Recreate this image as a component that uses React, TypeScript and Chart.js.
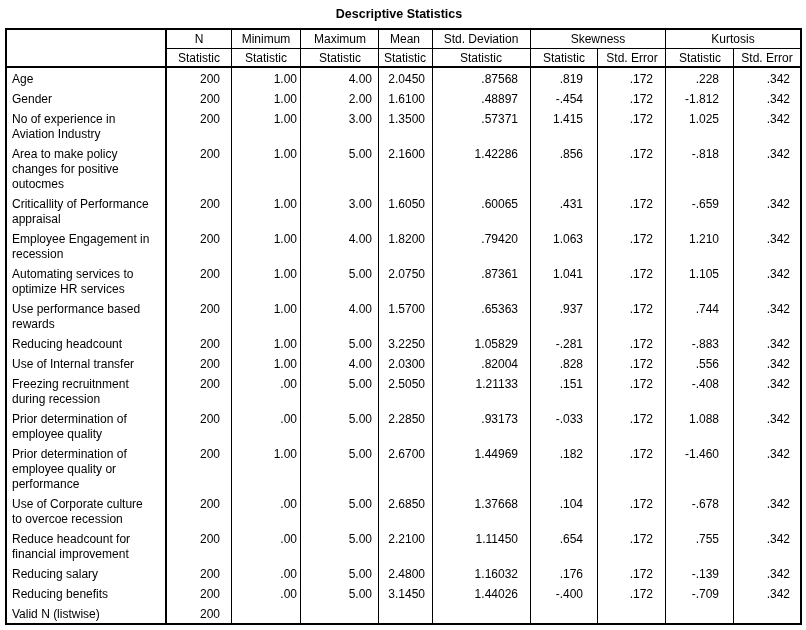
import React, { useEffect, useRef } from "react";
import { Chart, registerables } from "chart.js";

Chart.register(...registerables);

// ---------- data ----------
const title = "Descriptive Statistics";
const groupHeaders = ["N", "Minimum", "Maximum", "Mean", "Std. Deviation", "Skewness", "Kurtosis"];
const subHeaders = ["Statistic", "Statistic", "Statistic", "Statistic", "Statistic", "Statistic", "Std. Error", "Statistic", "Std. Error"];

const rowLabels: string[][] = [
  ["Age"],
  ["Gender"],
  ["No of experience in", "Aviation Industry"],
  ["Area to make policy", "changes for positive", "outocmes"],
  ["Criticallity of Performance", "appraisal"],
  ["Employee Engagement in", "recession"],
  ["Automating services to", "optimize HR services"],
  ["Use performance based", "rewards"],
  ["Reducing headcount"],
  ["Use of Internal transfer"],
  ["Freezing recruitnment", "during recession"],
  ["Prior determination of", "employee quality"],
  ["Prior determination of", "employee quality or", "performance"],
  ["Use of Corporate culture", "to overcoe recession"],
  ["Reduce headcount for", "financial improvement"],
  ["Reducing salary"],
  ["Reducing benefits"],
  ["Valid N (listwise)"],
];

const nValues = [200, 200, 200, 200, 200, 200, 200, 200, 200, 200, 200, 200, 200, 200, 200, 200, 200, 200];
const minimumValues = [1, 1, 1, 1, 1, 1, 1, 1, 1, 1, 0, 0, 1, 0, 0, 0, 0, null];
const maximumValues = [4, 2, 3, 5, 3, 4, 5, 4, 5, 4, 5, 5, 5, 5, 5, 5, 5, null];
const meanValues = [2.045, 1.61, 1.35, 2.16, 1.605, 1.82, 2.075, 1.57, 3.225, 2.03, 2.505, 2.285, 2.67, 2.685, 2.21, 2.48, 3.145, null];
const stdDevValues = [0.87568, 0.48897, 0.57371, 1.42286, 0.60065, 0.7942, 0.87361, 0.65363, 1.05829, 0.82004, 1.21133, 0.93173, 1.44969, 1.37668, 1.1145, 1.16032, 1.44026, null];
const skewnessValues = [0.819, -0.454, 1.415, 0.856, 0.431, 1.063, 1.041, 0.937, -0.281, 0.828, 0.151, -0.033, 0.182, 0.104, 0.654, 0.176, -0.4, null];
const skewnessSE = [0.172, 0.172, 0.172, 0.172, 0.172, 0.172, 0.172, 0.172, 0.172, 0.172, 0.172, 0.172, 0.172, 0.172, 0.172, 0.172, 0.172, null];
const kurtosisValues = [0.228, -1.812, 1.025, -0.818, -0.659, 1.21, 1.105, 0.744, -0.883, 0.556, -0.408, 1.088, -1.46, -0.678, 0.755, -0.139, -0.709, null];
const kurtosisSE = [0.342, 0.342, 0.342, 0.342, 0.342, 0.342, 0.342, 0.342, 0.342, 0.342, 0.342, 0.342, 0.342, 0.342, 0.342, 0.342, 0.342, null];

const columnValues = [nValues, minimumValues, maximumValues, meanValues, stdDevValues, skewnessValues, skewnessSE, kurtosisValues, kurtosisSE];
const columnDecimals = [0, 2, 2, 4, 5, 3, 3, 3, 3];

// ---------- layout (pixels on the chart's own linear scales) ----------
const W = 806;
const H = 630;
const TABLE_LEFT = 5;
const TABLE_RIGHT = 800;
const TABLE_TOP = 28;
const HEADER_MID = 48;
const HEADER_BOTTOM = 66;
const TABLE_BOTTOM = 623;
const LABEL_COL_RIGHT = 165;
const colLines = [231, 300, 378, 432, 530, 597, 665, 733];
const textRight = [220, 297, 372, 425, 518, 583, 653, 719, 790];
const LINE_H = 15;
const ROW_PAD = 5;
const BODY_TOP = 68;

const FONT = "12px 'Liberation Sans', Arial, Helvetica, sans-serif";
const BOLD = "bold 12.5px 'Liberation Sans', Arial, Helvetica, sans-serif";

function fmt(v: number | null, d: number): string {
  if (v === null || v === undefined) return "";
  let s = v.toFixed(d);
  s = s.replace(/^(-?)0\./, "$1.");
  return s;
}

const tablePlugin = {
  id: "spssTable",
  beforeDraw(chart: any) {
    const ctx = chart.ctx;
    ctx.save();
    ctx.fillStyle = "#ffffff";
    ctx.fillRect(0, 0, chart.width, chart.height);
    ctx.restore();
  },
  afterDraw(chart: any) {
    const xs = chart.scales.x;
    const ys = chart.scales.y;
    const X = (v: number) => Math.round(xs.getPixelForValue(v));
    const Y = (v: number) => Math.round(ys.getPixelForValue(v));
    const ctx = chart.ctx as CanvasRenderingContext2D;
    ctx.save();
    ctx.fillStyle = "#000";

    const hline = (x1: number, x2: number, y: number, w: number) => {
      ctx.fillRect(X(x1), Y(y), X(x2) - X(x1), w);
    };
    const vline = (x: number, y1: number, y2: number, w: number) => {
      ctx.fillRect(X(x), Y(y1), w, Y(y2) - Y(y1));
    };

    // title
    ctx.font = BOLD;
    ctx.textAlign = "center";
    ctx.textBaseline = "alphabetic";
    ctx.fillText(title, X(399), Y(18));

    // borders
    hline(TABLE_LEFT, TABLE_RIGHT + 2, TABLE_TOP, 2);
    hline(TABLE_LEFT, TABLE_RIGHT + 2, TABLE_BOTTOM, 2);
    vline(TABLE_LEFT, TABLE_TOP, TABLE_BOTTOM + 2, 2);
    vline(TABLE_RIGHT, TABLE_TOP, TABLE_BOTTOM + 2, 2);
    vline(LABEL_COL_RIGHT, TABLE_TOP, TABLE_BOTTOM, 2);
    hline(LABEL_COL_RIGHT, TABLE_RIGHT, HEADER_MID, 1);
    hline(TABLE_LEFT, TABLE_RIGHT, HEADER_BOTTOM, 2);
    // inner column lines (sub columns of skewness/kurtosis start below group header)
    colLines.forEach((x, i) => {
      const sub = i === 5 || i === 7;
      vline(x, sub ? HEADER_MID : TABLE_TOP, TABLE_BOTTOM, 1);
    });

    // header text
    ctx.font = FONT;
    ctx.textAlign = "center";
    const colLeft = [LABEL_COL_RIGHT + 2, ...colLines.map((x) => x + 1)];
    const colRight = [...colLines, TABLE_RIGHT];
    const groupSpan = [[0, 0], [1, 1], [2, 2], [3, 3], [4, 4], [5, 6], [7, 8]];
    groupHeaders.forEach((g, i) => {
      const [a, b] = groupSpan[i];
      const cx = (colLeft[a] + colRight[b]) / 2;
      ctx.fillText(g, X(cx), Y(43));
    });
    subHeaders.forEach((s, i) => {
      const cx = (colLeft[i] + colRight[i]) / 2;
      ctx.fillText(s, X(cx), Y(62));
    });

    // body
    let top = BODY_TOP;
    rowLabels.forEach((lines, r) => {
      ctx.textAlign = "left";
      lines.forEach((l, k) => {
        ctx.fillText(l, X(12), Y(top + 15 + LINE_H * k));
      });
      ctx.textAlign = "right";
      columnValues.forEach((col, c) => {
        const s = fmt(col[r] as number | null, columnDecimals[c]);
        if (s) ctx.fillText(s, X(textRight[c]), Y(top + 15));
      });
      top += LINE_H * lines.length + ROW_PAD;
    });
    ctx.restore();
  },
};

export default function App() {
  const ref = useRef<HTMLCanvasElement | null>(null);
  useEffect(() => {
    document.body.style.margin = "0";
    const canvas = ref.current;
    if (!canvas) return;
    const chart = new Chart(canvas, {
      type: "scatter",
      data: { datasets: [{ data: [], pointRadius: 0 }] },
      options: {
        animation: false,
        responsive: false,
        devicePixelRatio: 1,
        layout: { padding: 0 },
        plugins: { legend: { display: false }, tooltip: { enabled: false }, title: { display: false } },
        scales: {
          x: { type: "linear", min: 0, max: W, display: false },
          y: { type: "linear", min: 0, max: H, reverse: true, display: false },
        },
      },
      plugins: [tablePlugin],
    });
    return () => chart.destroy();
  }, []);
  return (
    <div style={{ width: W, height: H, background: "#fff" }}>
      <canvas ref={ref} width={W} height={H} style={{ display: "block" }} />
    </div>
  );
}
